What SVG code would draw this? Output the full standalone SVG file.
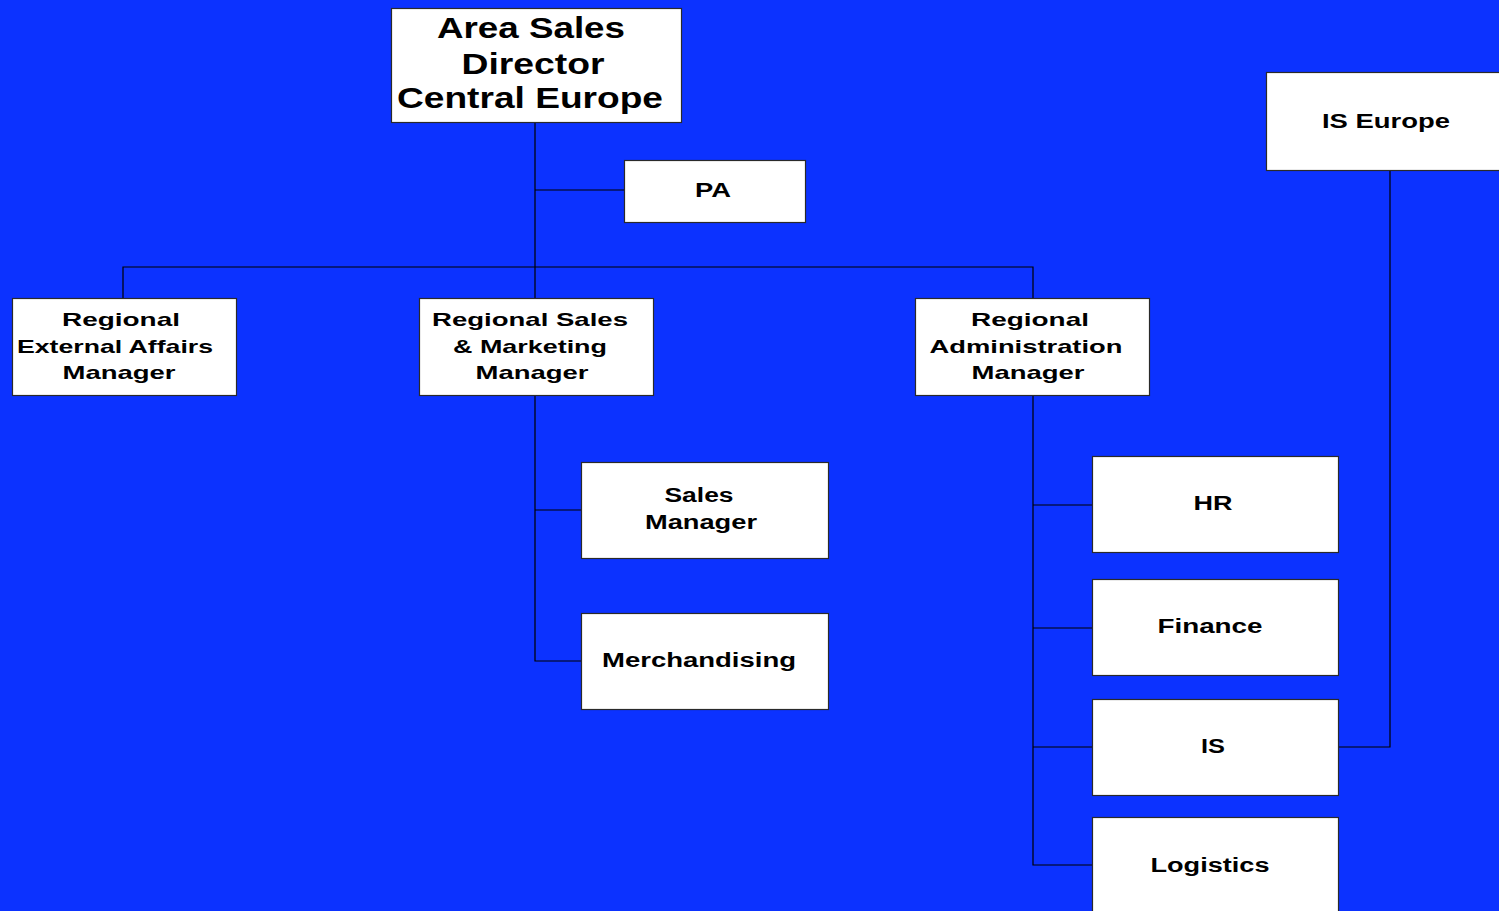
<svg xmlns="http://www.w3.org/2000/svg" width="1499" height="911" viewBox="0 0 1499 911">
  <style>
    .box { fill: #ffffff; stroke: #2a2a2a; stroke-width: 1.2; }
    .lbl { font-family: "Liberation Sans", Arial, sans-serif; font-weight: bold; fill: #000; text-anchor: middle; }
    .t30 { font-size: 30px; }
    .t20 { font-size: 20px; }
    .t19 { font-size: 19px; }
    .wire { fill: none; stroke: #000; stroke-width: 1.2; }
  </style>
  <rect x="0" y="0" width="1499" height="911" fill="#0c32ff"/>

  <!-- reporting lines -->
  <g id="connectors" class="wire">
    <path d="M535 123 V267"/>
    <path d="M535 190 H624"/>
    <path d="M123 298 V267 H1033 V298"/>
    <path d="M535 267 V298"/>
    <path d="M535 396 V661 H581"/>
    <path d="M535 510 H581"/>
    <path d="M1033 396 V865 H1092"/>
    <path d="M1033 505 H1092"/>
    <path d="M1033 628 H1092"/>
    <path d="M1033 747 H1092"/>
    <path d="M1390 171 V747 H1339"/>
  </g>

  <g id="area-director">
    <rect class="box" x="391.5" y="8.5" width="290" height="114"/>
    <text class="lbl t30" x="531" y="38" textLength="188" lengthAdjust="spacingAndGlyphs">Area Sales</text>
    <text class="lbl t30" x="533" y="74" textLength="143" lengthAdjust="spacingAndGlyphs">Director</text>
    <text class="lbl t30" x="530" y="108" textLength="266" lengthAdjust="spacingAndGlyphs">Central Europe</text>
  </g>

  <g id="pa">
    <rect class="box" x="624.5" y="160.5" width="181" height="62"/>
    <text class="lbl t20" x="713" y="197" textLength="36" lengthAdjust="spacingAndGlyphs">PA</text>
  </g>

  <g id="is-europe">
    <rect class="box" x="1266.5" y="72.5" width="240" height="98"/>
    <text class="lbl t20" x="1386" y="128" textLength="128" lengthAdjust="spacingAndGlyphs">IS Europe</text>
  </g>

  <g id="external-affairs">
    <rect class="box" x="12.5" y="298.5" width="224" height="97"/>
    <text class="lbl t19" x="121" y="326" textLength="118" lengthAdjust="spacingAndGlyphs">Regional</text>
    <text class="lbl t19" x="115" y="353" textLength="196" lengthAdjust="spacingAndGlyphs">External Affairs</text>
    <text class="lbl t19" x="119" y="379" textLength="113" lengthAdjust="spacingAndGlyphs">Manager</text>
  </g>

  <g id="sales-marketing">
    <rect class="box" x="419.5" y="298.5" width="234" height="97"/>
    <text class="lbl t19" x="530" y="326" textLength="196" lengthAdjust="spacingAndGlyphs">Regional Sales</text>
    <text class="lbl t19" x="530" y="353" textLength="154" lengthAdjust="spacingAndGlyphs">&amp; Marketing</text>
    <text class="lbl t19" x="532" y="379" textLength="113" lengthAdjust="spacingAndGlyphs">Manager</text>
  </g>

  <g id="administration">
    <rect class="box" x="915.5" y="298.5" width="234" height="97"/>
    <text class="lbl t19" x="1030" y="326" textLength="118" lengthAdjust="spacingAndGlyphs">Regional</text>
    <text class="lbl t19" x="1026" y="353" textLength="193" lengthAdjust="spacingAndGlyphs">Administration</text>
    <text class="lbl t19" x="1028" y="379" textLength="113" lengthAdjust="spacingAndGlyphs">Manager</text>
  </g>

  <g id="sales-manager">
    <rect class="box" x="581.5" y="462.5" width="247" height="96"/>
    <text class="lbl t20" x="699" y="502" textLength="69" lengthAdjust="spacingAndGlyphs">Sales</text>
    <text class="lbl t20" x="701" y="529" textLength="112" lengthAdjust="spacingAndGlyphs">Manager</text>
  </g>

  <g id="merchandising">
    <rect class="box" x="581.5" y="613.5" width="247" height="96"/>
    <text class="lbl t20" x="699" y="667" textLength="194" lengthAdjust="spacingAndGlyphs">Merchandising</text>
  </g>

  <g id="hr">
    <rect class="box" x="1092.5" y="456.5" width="246" height="96"/>
    <text class="lbl t20" x="1213" y="510" textLength="39" lengthAdjust="spacingAndGlyphs">HR</text>
  </g>

  <g id="finance">
    <rect class="box" x="1092.5" y="579.5" width="246" height="96"/>
    <text class="lbl t20" x="1210" y="633" textLength="105" lengthAdjust="spacingAndGlyphs">Finance</text>
  </g>

  <g id="is">
    <rect class="box" x="1092.5" y="699.5" width="246" height="96"/>
    <text class="lbl t20" x="1213" y="753" textLength="24" lengthAdjust="spacingAndGlyphs">IS</text>
  </g>

  <g id="logistics">
    <rect class="box" x="1092.5" y="817.5" width="246" height="120"/>
    <text class="lbl t20" x="1210" y="872" textLength="119" lengthAdjust="spacingAndGlyphs">Logistics</text>
  </g>
</svg>
